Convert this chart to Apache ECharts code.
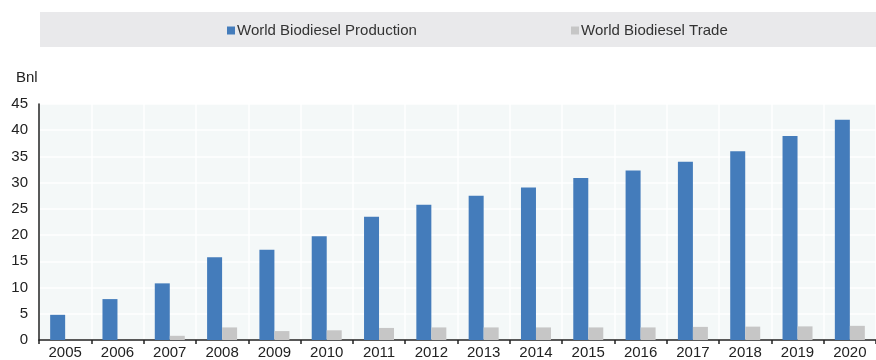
<!DOCTYPE html>
<html>
<head>
<meta charset="utf-8">
<script src="https://cdn.jsdelivr.net/npm/echarts@6/dist/echarts.min.js"></script>
<style>
html,body{margin:0;padding:0;background:#fff;}
#chart{width:876px;height:360px;}
</style>
</head>
<body>
<div id="chart"></div>
<script>
var years = ['2005','2006','2007','2008','2009','2010','2011','2012','2013','2014','2015','2016','2017','2018','2019','2020'];
var production = [4.8, 7.8, 10.8, 15.8, 17.2, 19.8, 23.5, 25.8, 27.5, 29.1, 30.9, 32.3, 34.0, 36.0, 38.9, 42.0];
var trade = [null, null, 0.8, 2.4, 1.7, 1.85, 2.3, 2.4, 2.4, 2.4, 2.4, 2.4, 2.5, 2.55, 2.6, 2.7];
var yTicks = [0, 5, 10, 15, 20, 25, 30, 35, 40, 45];
var seriesNames = ['World Biodiesel Production', 'World Biodiesel Trade'];
var unitLabel = 'Bnl';

var FONT = '"Liberation Sans", Arial, sans-serif';
var chart = echarts.init(document.getElementById('chart'), null, {renderer: 'canvas'});
chart.setOption({
  animation: false,
  backgroundColor: '#ffffff',
  graphic: [
    {type: 'rect', left: 40, top: 12, shape: {width: 836, height: 35}, style: {fill: '#e9e9eb'}, z: -1},
    {type: 'text', left: 16, top: 70, style: {text: unitLabel, font: '15px ' + FONT, fill: '#222'}}
  ],
  legend: [
    {data: [seriesNames[0]], left: 222, top: 18, itemWidth: 8, itemHeight: 8, itemGap: 0,
     icon: 'rect', textStyle: {fontFamily: FONT, fontSize: 15, color: '#333', padding: [0,0,0,-3]}},
    {data: [seriesNames[1]], left: 566, top: 18, itemWidth: 8, itemHeight: 8, itemGap: 0,
     icon: 'rect', textStyle: {fontFamily: FONT, fontSize: 15, color: '#333', padding: [0,0,0,-3]}}
  ],
  grid: {left: 39, top: 104, width: 840, height: 236, show: true, backgroundColor: '#f4f8f8', borderWidth: 0, containLabel: false},
  xAxis: {
    type: 'category',
    data: years,
    axisLine: {show: true, lineStyle: {color: '#222', width: 1.5}},
    axisTick: {show: true, alignWithLabel: false, interval: 0, length: 4, lineStyle: {color: '#222', width: 1.5}},
    axisLabel: {interval: 0, fontFamily: FONT, fontSize: 15, color: '#222', margin: 5},
    splitLine: {show: true, interval: 0, lineStyle: {color: '#ffffff', width: 1.5}}
  },
  yAxis: {
    type: 'value',
    min: yTicks[0],
    max: yTicks[yTicks.length - 1],
    interval: 5,
    axisLine: {show: true, lineStyle: {color: '#222', width: 1.5}},
    axisTick: {show: false},
    axisLabel: {fontFamily: FONT, fontSize: 15, color: '#222', margin: 11},
    splitLine: {show: true, lineStyle: {color: '#ffffff', width: 1.5}}
  },
  series: [
    {name: seriesNames[0], type: 'bar', data: production, barWidth: 15, barGap: '0%',
     itemStyle: {color: '#447cbb'}},
    {name: seriesNames[1], type: 'bar', data: trade, barWidth: 15, barGap: '0%',
     itemStyle: {color: '#c6c6c6'}}
  ]
});
</script>
</body>
</html>
